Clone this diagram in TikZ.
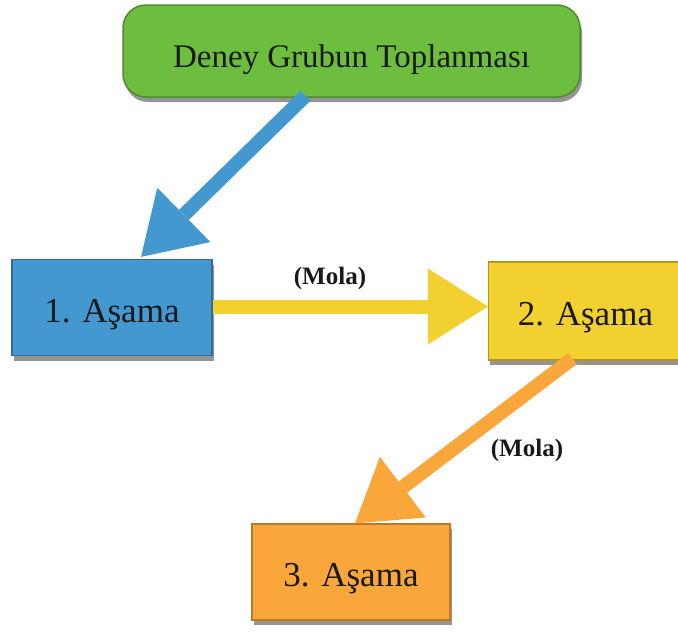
\documentclass[tikz,border=0pt]{standalone}
\usepackage{fontspec}
\setmainfont{Liberation Serif}
\usetikzlibrary{arrows.meta,shadows,calc}
\definecolor{gfill}{RGB}{109,190,62}
\definecolor{gdraw}{RGB}{78,140,44}
\definecolor{bfill}{RGB}{66,152,207}
\definecolor{bdraw}{RGB}{45,110,155}
\definecolor{yfill}{RGB}{242,208,48}
\definecolor{ydraw}{RGB}{180,150,30}
\definecolor{ofill}{RGB}{249,167,58}
\definecolor{odraw}{RGB}{190,120,35}
\definecolor{txt}{RGB}{25,25,25}
\tikzset{
  stagebox/.style={rectangle, line width=1.2pt, minimum width=200pt, minimum height=96pt,
    inner sep=0pt, text=txt, font=\fontsize{35}{40}\selectfont, text height=29pt, text depth=0pt,
    drop shadow={shadow xshift=1.5pt, shadow yshift=-5pt, opacity=0.6, fill=black!70}},
  topbox/.style={rectangle, rounded corners=23pt, line width=1.5pt, fill=gfill, draw=gdraw,
    minimum width=457pt, minimum height=92pt, inner sep=0pt, text=txt,
    font=\fontsize{33}{38}\selectfont, text height=32pt, text depth=0pt,
    drop shadow={shadow xshift=2pt, shadow yshift=-5pt, opacity=0.6, fill=black!70}},
  bigarrow/.style={line width=14pt, -{Triangle[length=60pt,width=76pt,line width=0pt]}},
  molalabel/.style={font=\bfseries\fontsize{25}{30}\selectfont, text=txt}
}
\begin{document}
\begin{tikzpicture}[x=1pt,y=-1pt]
\useasboundingbox (0,0) rectangle (678,635);
\node[topbox] (top) at (351.5,51) {Deney Grubun Toplanması};
\node[stagebox, fill=bfill, draw=bdraw] (s1) at (112,307.5) {1. Aşama};
\node[stagebox, fill=yfill, draw=ydraw, minimum width=192pt, minimum height=98pt] (s2) at (584.5,311) {\hspace*{2pt}2. Aşama};
\node[stagebox, fill=ofill, draw=odraw, minimum width=198pt] (s3) at (351,572) {3. Aşama};
\coordinate (bstart) at ([xshift=-46pt,yshift=2pt]top.south);
\coordinate (bend) at ([xshift=29pt,yshift=2pt]s1.north);
\draw[bigarrow, draw=bfill, fill=bfill] (bstart) -- (bend);
\draw[bigarrow, draw=yfill, fill=yfill] ([yshift=1pt]s1.east) -- ([yshift=1pt]s1.east -| s2.west);
\coordinate (ostart) at ([xshift=-12pt,yshift=2pt]s2.south);
\coordinate (oend) at ([xshift=4pt]s3.north);
\draw[bigarrow, draw=ofill, fill=ofill] (ostart) -- (oend);
\node[molalabel] (m1) at (330,278) {(Mola)};
\node[molalabel] (m2) at (527,450) {(Mola)};
\end{tikzpicture}
\end{document}
